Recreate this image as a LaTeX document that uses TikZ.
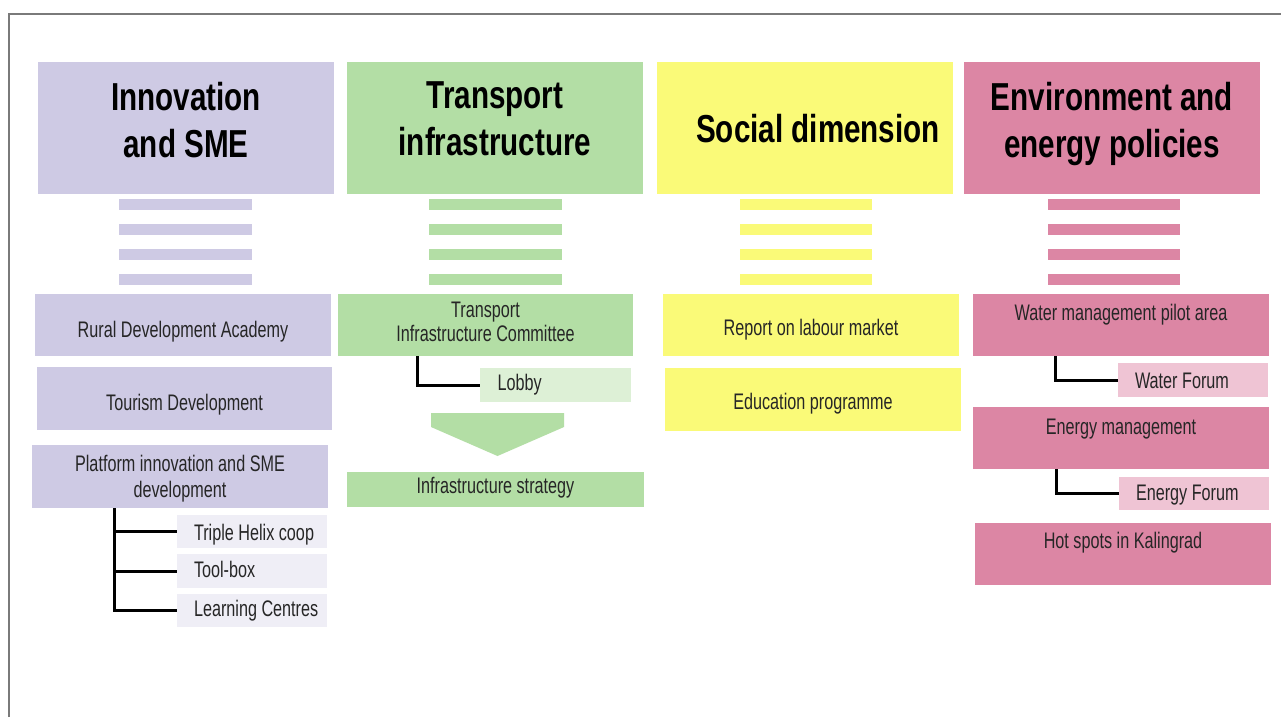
\documentclass[tikz,border=0pt]{standalone}
\usepackage{fontspec}
\newfontfamily\hfont[FakeStretch=0.76]{Liberation Sans}
\newfontfamily\bfont[FakeStretch=0.72]{Liberation Sans}
\definecolor{lav}{HTML}{CECAE4}
\definecolor{lavl}{HTML}{EFEEF6}
\definecolor{grn}{HTML}{B3DEA5}
\definecolor{grnl}{HTML}{DDF0D6}
\definecolor{yel}{HTML}{FAFA78}
\definecolor{pnk}{HTML}{DC86A4}
\definecolor{pnkl}{HTML}{EFC4D4}
\definecolor{txt}{HTML}{262626}
\definecolor{frame}{HTML}{7A7A7A}
\newcommand\subtxt[1]{\makebox[150pt][l]{\hspace{17pt}#1}}
\def\blH{16}
\begin{document}
\begin{tikzpicture}[x=1pt,y=-1pt,
  setH/.code={\def\blH{#1}},
  bl/.style={/utils/exec={\pgfmathsetmacro\blh{\blH+(#1)}\pgfmathsetmacro\bld{\blH-(#1)}},
     text height=\blh pt, text depth=\bld pt},
  head/.style={minimum width=296pt, minimum height=132pt, inner sep=0pt, align=center,
     font=\hfont\bfseries\fontsize{39}{47}\selectfont, text=black, setH=40},
  box/.style={minimum width=296pt, minimum height=62pt, inner sep=0pt, align=center,
     font=\bfont\fontsize{22.5}{24}\selectfont, text=txt, setH=24},
  sub/.style={minimum width=150pt, minimum height=33pt, inner sep=0pt,
     font=\bfont\fontsize{22.5}{24}\selectfont, text=txt, setH=16},
  conn/.style={line width=3pt, black}]
\useasboundingbox (0,0) rectangle (1281,717);
\fill[white] (0,0) rectangle (1281,717);
\draw[frame, line width=2.4pt] (9,717) -- (9,14) -- (1281,14);

% headers
\node[head, fill=lav, bl=29] (h1) at (186,128) {Innovation\\and SME};
\node[head, fill=grn, bl=27] (h2) at (495,128) {Transport\\infrastructure};
\node[head, fill=yel, bl=14] (h3) at (805,128) {\hspace*{26pt}Social dimension};
\node[head, fill=pnk, bl=29] (h4) at (1112,128) {Environment and\\energy policies};

% bars
\foreach \y in {199,224,249,274}{
  \fill[lav] (119,\y) rectangle (252,\y+11);
  \fill[grn] (429,\y) rectangle (562,\y+11);
  \fill[yel] (740,\y) rectangle (872,\y+11);
  \fill[pnk] (1048,\y) rectangle (1180,\y+11);
}

% column 1
\node[box, fill=lav, bl=12] (rda) at (183,325) {Rural Development Academy};
\node[box, fill=lav, bl=11.5, minimum width=295pt, minimum height=63pt] (tour) at (184.5,398.5) {Tourism Development};
\node[box, fill=lav, bl=20.5, minimum height=63pt, font=\bfont\fontsize{22.5}{26}\selectfont] (plat) at (180,476.5) {Platform innovation and SME\\development};
\node[sub, fill=lavl, bl=8.5] (triple) at (252,531.5) {\subtxt{Triple Helix coop}};
\node[sub, fill=lavl, bl=6.7, minimum height=34pt] (toolbox) at (252,571) {\subtxt{Tool-box}};
\node[sub, fill=lavl, bl=5.5] (learn) at (252,610.5) {\subtxt{Learning Centres}};
\draw[conn] ([xshift=83pt]plat.south west) |- (triple.west);
\draw[conn] ([xshift=83pt]plat.south west) |- (toolbox.west);
\draw[conn] ([xshift=83pt]plat.south west) |- (learn.west);

% column 2
\node[box, fill=grn, bl=16, minimum width=295pt] (tic) at (485.5,325) {Transport\\Infrastructure Committee};
\node[sub, fill=grnl, bl=5, minimum width=151pt, minimum height=34pt] (lobby) at (555.5,385) {\subtxt{Lobby}};
\draw[conn] ([xshift=80pt]tic.south west) |- (lobby.west);
\fill[grn] (431,413) -- (564,413) -- (564,427) -- (497.5,456) -- (431,427) -- cycle;
\node[box, fill=grn, setH=16, bl=3.5, minimum width=297pt, minimum height=35pt] (strat) at (495.5,489.5) {Infrastructure strategy};

% column 3
\node[box, fill=yel, bl=10] (report) at (811,325) {Report on labour market};
\node[box, fill=yel, bl=9.5, minimum height=63pt] (edu) at (813,399.5) {Education programme};

% column 4
\node[box, fill=pnk, bl=-5] (water) at (1121,325) {Water management pilot area};
\node[sub, fill=pnkl, bl=8, minimum height=34pt] (wforum) at (1193,380) {\subtxt{Water Forum}};
\draw[conn] ([xshift=83pt]water.south west) |- (wforum.west);
\node[box, fill=pnk, bl=-4] (energy) at (1121,438) {Energy management};
\node[sub, fill=pnkl, bl=6.5] (eforum) at (1194,493.5) {\subtxt{Energy Forum}};
\draw[conn] ([xshift=84pt]energy.south west) |- (eforum.west);
\node[box, fill=pnk, bl=-6] (hot) at (1123,554) {Hot spots in Kalingrad};
\end{tikzpicture}
\end{document}
